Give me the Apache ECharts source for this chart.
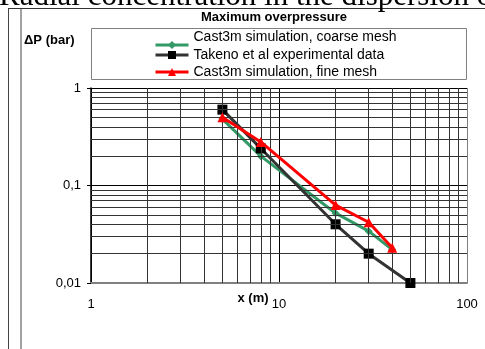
<!DOCTYPE html>
<html>
<head>
<meta charset="utf-8">
<script src="https://cdn.jsdelivr.net/npm/echarts@6/dist/echarts.min.js"></script>
<style>
html,body{margin:0;padding:0;background:#fff;}
#c{width:485px;height:349px;}
</style>
</head>
<body>
<div id="c"></div>
<script>
// ---- data ----
const simDistances = [5, 8, 20, 30, 40];
const expDistances = [5, 8, 20, 30, 50];
const coarseMesh = [0.48, 0.2, 0.052, 0.034, 0.022];
const experimental = [0.6, 0.24, 0.04, 0.02, 0.01];
const fineMesh = [0.5, 0.28, 0.063, 0.042, 0.023];
const seriesNames = ['Cast3m simulation, coarse mesh', 'Takeno et al experimental data', 'Cast3m simulation, fine mesh'];
const minorX = [2,3,4,5,6,7,8,9,20,30,40,50,60,70,80,90];
const minorY = [0.02,0.03,0.04,0.05,0.06,0.07,0.08,0.09,0.2,0.3,0.4,0.5,0.6,0.7,0.8,0.9];
const chartTitle = 'Maximum overpressure';
const yName = '\u0394P (bar)';
const xName = 'x (m)';
const pageHeading = 'Radial concentration in the dispersion of';

const FONT = 'Liberation Sans, Arial, sans-serif';
const pair = (xs, ys) => xs.map((x, i) => [x, ys[i]]);
const fmt = v => String(+(+v).toPrecision(2)).replace('.', ',');

const chart = echarts.init(document.getElementById('c'), null, {renderer: 'canvas'});
chart.setOption({
  animation: false,
  backgroundColor: '#fff',
  grid: {left: 91, top: 88, width: 376, height: 195, containLabel: false},
  xAxis: {
    type: 'log', logBase: 10, min: 1, max: 100,
    axisLine: {show: true, onZero: false, lineStyle: {color: '#808080', width: 2}},
    axisTick: {show: false},
    axisLabel: {color: '#000', fontFamily: FONT, fontSize: 13, margin: 15, formatter: fmt},
    splitLine: {show: true, lineStyle: {color: ['#000', '#000', '#808080'], width: 1}}
  },
  yAxis: {
    type: 'log', logBase: 10, min: 0.01, max: 1,
    axisLine: {show: true, onZero: false, lineStyle: {color: '#000', width: 1.5}},
    axisTick: {show: true, inside: false, length: 4, lineStyle: {color: '#000'}},
    axisLabel: {color: '#000', fontFamily: FONT, fontSize: 13, margin: 10, formatter: fmt},
    splitLine: {show: true, lineStyle: {color: '#000', width: 1}}
  },
  legend: [
    {
      data: [seriesNames[0]], orient: 'vertical', left: 154, top: 29, padding: 0,
      itemWidth: 33, itemHeight: 10,
      lineStyle: {width: 3},
      formatter: name => name + '\n ',
      textStyle: {fontFamily: FONT, fontSize: 14, color: '#000', lineHeight: 16}
    },
    {
      data: [seriesNames[1], seriesNames[2]], orient: 'vertical', left: 154, top: 48, padding: 0,
      itemWidth: 33, itemHeight: 10, itemGap: 3,
      lineStyle: {width: 3},
      textStyle: {fontFamily: FONT, fontSize: 14, color: '#000', lineHeight: 14}
    }
  ],
  graphic: [
    {type: 'text', x: -1, y: -3, silent: true, z: 10,
     style: {text: pageHeading, font: '31px "Liberation Serif", "Times New Roman", serif', fill: '#000',
             align: 'left', verticalAlign: 'middle'}},
    {type: 'line', silent: true, shape: {x1: 8, y1: 8.5, x2: 485, y2: 8.5}, style: {stroke: '#333', lineWidth: 1}},
    {type: 'line', silent: true, shape: {x1: 8.5, y1: 8.5, x2: 8.5, y2: 349}, style: {stroke: '#444', lineWidth: 1}},
    {type: 'line', silent: true, shape: {x1: 21, y1: 8.5, x2: 21, y2: 349}, style: {stroke: '#444', lineWidth: 1}},
    {type: 'text', x: 274, y: 17, silent: true,
     style: {text: chartTitle, font: 'bold 13px ' + FONT, fill: '#000', align: 'center', verticalAlign: 'middle'}},
    {type: 'text', x: 24, y: 40, silent: true,
     style: {text: yName, font: 'bold 13px ' + FONT, fill: '#000', align: 'left', verticalAlign: 'middle'}},
    {type: 'text', x: 253, y: 298, silent: true,
     style: {text: xName, font: 'bold 13px ' + FONT, fill: '#000', align: 'center', verticalAlign: 'middle'}},
    {type: 'rect', silent: true, z: -1, shape: {x: 91.5, y: 28.5, width: 375, height: 51},
     style: {fill: '#fff', stroke: '#808080', lineWidth: 1}}
  ],
  series: [
    {
      type: 'line', data: [], silent: true, z: 1,
      markLine: {
        silent: true, animation: false, symbol: ['none', 'none'],
        label: {show: false}, emphasis: {disabled: true},
        lineStyle: {color: '#333', width: 1, type: 'solid'},
        data: minorX.map(v => ({xAxis: v})).concat(minorY.map(v => ({yAxis: v})))
      }
    },
    {
      name: seriesNames[0], type: 'line', z: 3, data: pair(simDistances, coarseMesh),
      symbol: 'diamond', symbolSize: 8,
      lineStyle: {color: '#339966', width: 3}, itemStyle: {color: '#339966'}
    },
    {
      name: seriesNames[1], type: 'line', z: 4, data: pair(expDistances, experimental),
      symbol: 'rect', symbolSize: 10,
      lineStyle: {color: '#333', width: 3}, itemStyle: {color: '#000'}
    },
    {
      name: seriesNames[2], type: 'line', z: 5, data: pair(simDistances, fineMesh),
      symbol: 'triangle', symbolSize: 10,
      lineStyle: {color: '#ff0000', width: 3}, itemStyle: {color: '#ff0000'}
    }
  ]
});
</script>
</body>
</html>
